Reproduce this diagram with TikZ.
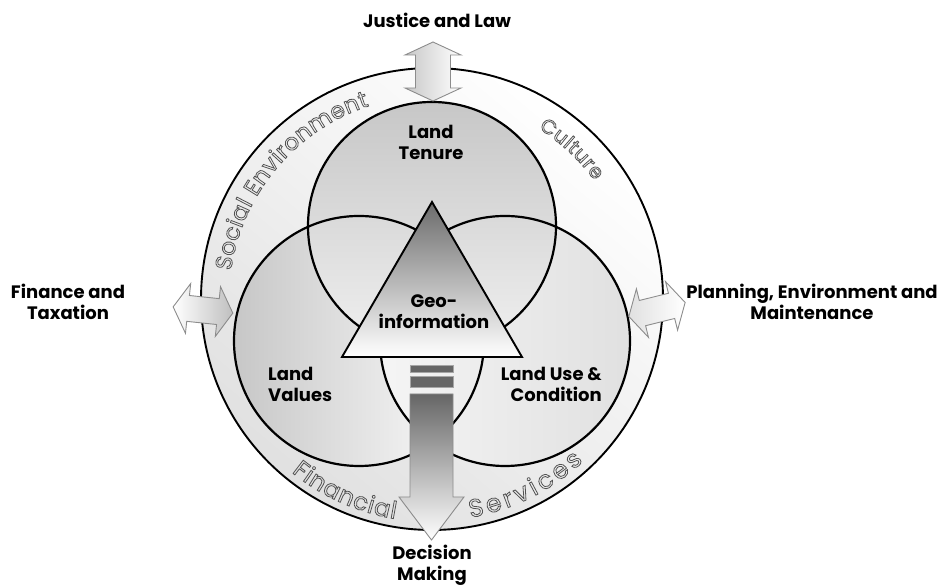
\documentclass[tikz,border=0pt]{standalone}
\usepackage{fontspec}
\setmainfont{Poppins}
\usetikzlibrary{decorations.text,calc}
\newcommand\hollowfmt[1]{\fontsize{#1}{#1}\selectfont\special{pdf:literal direct 1 Tr 0.8 w}}
\newcommand\hollowtext[3]{%
  \path[decorate, decoration={text along path, text align={fit to path},
      text={|\hollowfmt{#3}|#2}, text color=black!68}] #1;}
\tikzset{
  label/.style={font=\bfseries\fontsize{18}{21}\selectfont, inner sep=0pt},
  ring/.style={draw=black, line width=2.2pt},
  garrow/.style={draw=black!45, line width=0.9pt, line join=miter}
}
\begin{document}
\begin{tikzpicture}[x=1pt,y=1pt]
\useasboundingbox (0,0) rectangle (940,585);
\coordinate (O) at (432,286);
\coordinate (T) at (432,359);
\coordinate (L) at (359,244);
\coordinate (R) at (505,244);
% outer disc
\shade[top color=white, bottom color=black!12, shading angle=-40] (O) circle[radius=231];
% inner discs
\shade[left color=black!22, right color=white] (L) circle[radius=125];
\shade[left color=black!4, right color=black!12] (R) circle[radius=125];
\shade[top color=black!22, bottom color=black!6] (T) circle[radius=124];
% outlines
\draw[ring, line width=1.9pt] (O) circle[radius=231];
\draw[ring] (L) circle[radius=125];
\draw[ring] (R) circle[radius=125];
\draw[ring] (T) circle[radius=124];
% triangle
\shade[top color=black!58, bottom color=white] (432,383) -- (522,228) -- (342,228) -- cycle;
\draw[line width=1.9pt, line join=miter] (432,383) -- (522,228) -- (342,228) -- cycle;
% down arrow
\shade[top color=black!60, bottom color=white] (410,191) -- (453,191) -- (453,88) -- (464,88) -- (431.5,45) -- (399,88) -- (410,88) -- cycle;
\draw[garrow] (410,191) -- (453,191) -- (453,88) -- (464,88) -- (431.5,45) -- (399,88) -- (410,88) -- cycle;
\draw[fill=black!60, draw=black!35, line width=1pt] (410,212) rectangle (453,219);
\draw[fill=black!60, draw=black!35, line width=1pt] (410,197) rectangle (453,208);
% top double arrow
\shade[left color=black!22, right color=white] (433,543) -- (461,530) -- (450.5,530) -- (450.5,497) -- (461,497) -- (433,484) -- (405,497) -- (415.5,497) -- (415.5,530) -- (405,530) -- cycle;
\draw[garrow] (433,543) -- (461,530) -- (450.5,530) -- (450.5,497) -- (461,497) -- (433,484) -- (405,497) -- (415.5,497) -- (415.5,530) -- (405,530) -- cycle;
% left double arrow
\begin{scope}[shift={(203,275)}, rotate=-6]
\shade[left color=white, right color=black!25] (-30,0) -- (-15,25) -- (-15,13) -- (15,13) -- (15,25) -- (30,0) -- (15,-25) -- (15,-13) -- (-15,-13) -- (-15,-25) -- cycle;
\draw[garrow] (-30,0) -- (-15,25) -- (-15,13) -- (15,13) -- (15,25) -- (30,0) -- (15,-25) -- (15,-13) -- (-15,-13) -- (-15,-25) -- cycle;
\end{scope}
% right double arrow
\begin{scope}[shift={(657,275.5)}, rotate=14]
\shade[left color=black!12, right color=white] (-29,0) -- (-15,25) -- (-15,13) -- (15,13) -- (15,25) -- (29,0) -- (15,-25) -- (15,-13) -- (-15,-13) -- (-15,-25) -- cycle;
\draw[garrow] (-29,0) -- (-15,25) -- (-15,13) -- (15,13) -- (15,25) -- (29,0) -- (15,-25) -- (15,-13) -- (-15,-13) -- (-15,-25) -- cycle;
\end{scope}
% curved hollow texts
\hollowtext{($(O)+(172:203)$) arc[start angle=172, end angle=108, radius=203]}{Social Environment}{23}
\hollowtext{($(O)+(58:201)$) arc[start angle=58, end angle=36, radius=201]}{Culture}{20}
\hollowtext{($(O)+(-129:223)$) arc[start angle=-129, end angle=-99.5, radius=223]}{Financial}{24}
\hollowtext{($(O)+(-80:222)$) arc[start angle=-80, end angle=-47, radius=222]}{Services}{25}
% labels
\node[label, anchor=base] (jl) at (437,557) {Justice and Law};
\node[label, anchor=base, align=center] (ft) at (68,265) {Finance and\\Taxation};
\node[label, anchor=base, align=center] (pem) at (812,265) {Planning, Environment and\\Maintenance};
\node[label, anchor=base, align=center] (dm) at (432,4) {Decision\\Making};
\node[label, anchor=base, align=center] (lt) at (431,425) {Land\\Tenure};
\node[label, anchor=base west, align=left] (lv) at (268,183) {Land\\Values};
\node[label, anchor=base east, align=right] (lu) at (602,183) {Land Use \&\\Condition};
\node[label, anchor=base, align=center] (geo) at (434,256) {Geo-\\information};
\end{tikzpicture}
\end{document}
